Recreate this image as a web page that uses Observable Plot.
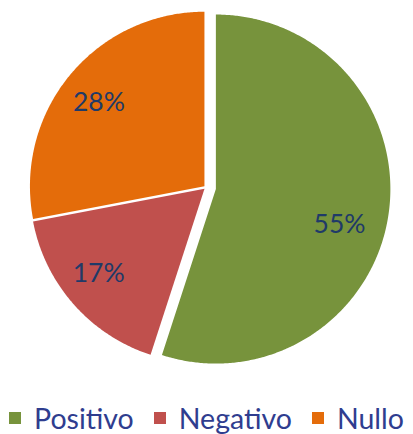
<!DOCTYPE html>
<html>
<head>
<meta charset="utf-8">
<script src="https://cdn.jsdelivr.net/npm/d3@7"></script>
<script src="https://cdn.jsdelivr.net/npm/@observablehq/plot@0.6"></script>
<style>
  html, body { margin: 0; padding: 0; background: #fff; }
  #chart { width: 413px; height: 375px; }
  .legend { display: flex; justify-content: center; align-items: center; height: 59px; width: 413px;
    font-family: Lato, "Open Sans", sans-serif; font-size: 28.5px; line-height: 1; color: #2F3D8F; padding-top: 27px; box-sizing: border-box; }
  .legend .item { display: flex; align-items: center; margin: 0 10px; white-space: nowrap; }
  .legend .sw { width: 12px; height: 12px; margin-right: 13px; }
</style>
</head>
<body>
<div id="chart"></div>
<script>
// ---- data ----
const categories = ["Positivo", "Negativo", "Nullo"];
const values = [55, 17, 28];
const labels = ["55%", "17%", "28%"];
const colors = ["#77933C", "#C0504D", "#E46C0A"];

// ---- style / layout ----
const W = 413, H = 375;
const R = 174.5;               // pie radius in px
const CX = 205.5, CY = 187;    // pie centre in px
const explodePx = {Positivo: 10, Negativo: 2, Nullo: 2};
const labelNudge = {Positivo: [-9, 14], Negativo: [-5, -4], Nullo: [-2, 2]};
const labelRadius = 0.77;

const rows = categories.map((c, i) => ({category: c, value: values[i], label: labels[i]}));
const arcs = d3.pie().sort(null).value(d => d.value)(rows);

const polys = [];
const labelRows = [];
for (const a of arcs) {
  const c = a.data.category;
  const mid = (a.startAngle + a.endAngle) / 2;
  const e = explodePx[c] / R;
  const ox = e * Math.sin(mid), oy = e * Math.cos(mid);
  polys.push({category: c, x: ox, y: oy});
  const n = Math.max(4, Math.ceil((a.endAngle - a.startAngle) / (Math.PI / 360)));
  for (let k = 0; k <= n; k++) {
    const t = a.startAngle + (a.endAngle - a.startAngle) * k / n;
    polys.push({category: c, x: ox + Math.sin(t), y: oy + Math.cos(t)});
  }
  labelRows.push({category: c, label: a.data.label,
    x: ox + labelRadius * Math.sin(mid), y: oy + labelRadius * Math.cos(mid),
    dx: labelNudge[c][0], dy: labelNudge[c][1]});
}

const chart = Plot.plot({
  width: W, height: H,
  margin: 0,
  x: {domain: [-CX / R, (W - CX) / R], axis: null},
  y: {domain: [(CY - H) / R, CY / R], axis: null},
  color: {domain: categories, range: colors},
  marks: [
    Plot.line(polys, {x: "x", y: "y", z: "category", fill: "category", stroke: null, curve: "linear-closed"}),
    ...labelRows.map(d => Plot.text([d], {x: "x", y: "y", text: "label", dx: d.dx, dy: d.dy,
      fill: "#1F3A68", fontSize: 26.5, fontFamily: "Lato, 'Open Sans', sans-serif"}))
  ]
});
document.getElementById("chart").append(chart);

// legend
const leg = document.createElement("div");
leg.className = "legend";
categories.forEach((c, i) => {
  const it = document.createElement("div");
  it.className = "item";
  const sw = document.createElement("span");
  sw.className = "sw";
  sw.style.background = colors[i];
  const tx = document.createElement("span");
  tx.textContent = c;
  it.append(sw, tx);
  leg.append(it);
});
document.body.append(leg);
</script>
</body>
</html>
